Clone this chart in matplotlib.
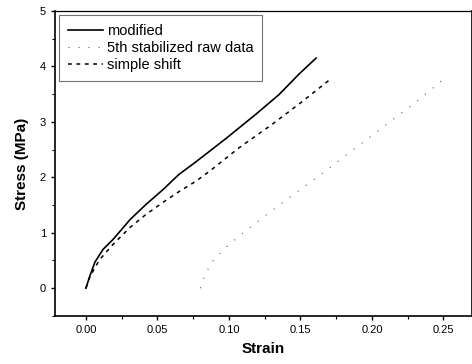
import numpy as np
import matplotlib.pyplot as plt
from matplotlib.ticker import MultipleLocator

plt.rcParams['font.family'] = ['Liberation Sans', 'DejaVu Sans']

# modified curve (solid)
mod_strain = [0.000, 0.0025, 0.0063, 0.012, 0.019, 0.031, 0.042, 0.054, 0.065, 0.077,
              0.088, 0.098, 0.119, 0.135, 0.149, 0.161]
mod_stress = [0.00, 0.20, 0.47, 0.70, 0.88, 1.24, 1.51, 1.78, 2.05, 2.28,
              2.50, 2.70, 3.14, 3.49, 3.86, 4.15]

# simple shift curve (dashed)
shift_strain = [0.000, 0.003, 0.0097, 0.019, 0.031, 0.042, 0.054, 0.065, 0.077, 0.088,
                0.107, 0.130, 0.151, 0.172]
shift_stress = [0.00, 0.22, 0.52, 0.79, 1.10, 1.33, 1.55, 1.74, 1.93, 2.14,
                2.53, 2.95, 3.36, 3.79]

# 5th stabilized raw data (sparse dots)
raw_strain = [0.080, 0.083, 0.088, 0.098, 0.109, 0.130, 0.151, 0.169, 0.187, 0.210, 0.231, 0.252]
raw_stress = [0.00, 0.22, 0.47, 0.74, 0.98, 1.40, 1.80, 2.14, 2.50, 2.95, 3.36, 3.81]

fig = plt.figure(figsize=(4.72, 3.64), dpi=100)
ax = fig.add_axes([0.1165, 0.132, 0.8835, 0.838])

ax.plot(mod_strain, mod_stress, color='black', lw=1.2, label='modified')
ax.plot(raw_strain, raw_stress, color='0.35', lw=0.8, linestyle=(0, (1, 8)),
        label='5th stabilized raw data')
ax.plot(shift_strain, shift_stress, color='black', lw=1.1, linestyle=(0, (2.5, 3)),
        label='simple shift')

ax.set_xlim(-0.0216, 0.27)
ax.set_ylim(-0.5, 5)
ax.xaxis.set_major_locator(MultipleLocator(0.05))
ax.xaxis.set_minor_locator(MultipleLocator(0.025))
ax.yaxis.set_major_locator(MultipleLocator(1))
ax.yaxis.set_minor_locator(MultipleLocator(0.5))
ax.xaxis.set_major_formatter(plt.FuncFormatter(lambda v, p: f"{v:.2f}"))
ax.tick_params(which='major', direction='out', length=3, width=1, labelsize=8)
ax.tick_params(which='minor', direction='out', length=2, width=0.8)
for s in ax.spines.values():
    s.set_linewidth(1.2)
ax.spines['top'].set_linewidth(0.9)

ax.set_xlabel('Strain', fontsize=11, fontweight='bold', labelpad=5)
ax.set_ylabel('Stress (MPa)', fontsize=11, fontweight='bold', labelpad=8)

leg = ax.legend(loc='upper left', fontsize=10.5, frameon=True, fancybox=False,
                edgecolor='0.3', handlelength=2.4, handletextpad=0.25,
                borderaxespad=0.3, labelspacing=0.2, borderpad=0.6)
leg.get_frame().set_linewidth(0.8)

fig.savefig('out.png', dpi=100)
